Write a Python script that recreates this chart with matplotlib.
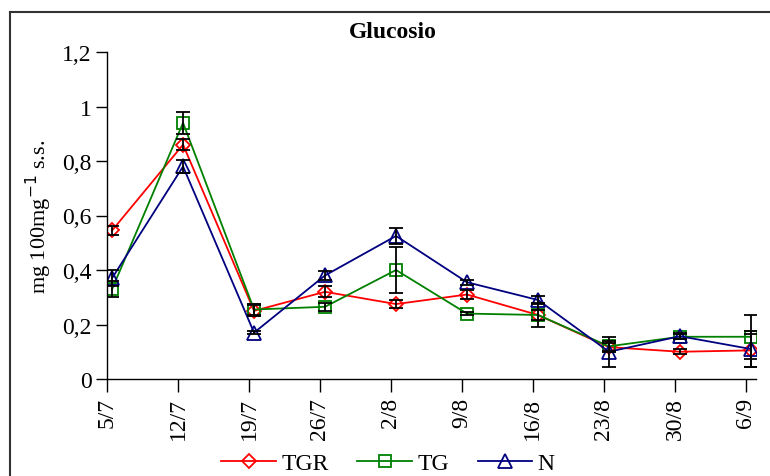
import numpy as np
import matplotlib.pyplot as plt
from matplotlib.lines import Line2D
from matplotlib.ticker import FuncFormatter

plt.rcParams['font.family'] = ['Liberation Serif', 'DejaVu Serif']

# sampling dates (tick labels) and days from 5/7
dates = ['5/7', '12/7', '19/7', '26/7', '2/8', '9/8', '16/8', '23/8', '30/8', '6/9']
days = np.arange(0, 70, 7)

# mean values (mg 100mg-1 s.s.)
tgr = [0.545, 0.86, 0.25, 0.32, 0.275, 0.31, 0.235, 0.117, 0.10, 0.105]
tg = [0.33, 0.94, 0.255, 0.265, 0.40, 0.24, 0.235, 0.12, 0.155, 0.155]
n = [0.37, 0.78, 0.17, 0.38, 0.525, 0.355, 0.29, 0.10, 0.157, 0.11]

# error bars
tgr_err = [0.015, 0.02, 0.02, 0.02, 0.015, 0.015, 0.045, 0.015, 0.01, 0.06]
tg_err = [0.03, 0.04, 0.02, 0.015, 0.085, 0.005, 0.02, 0.02, 0.01, 0.08]
n_err = [0.03, 0.025, 0.005, 0.015, 0.03, 0.01, 0.015, 0.055, 0.01, 0.065]

fig = plt.figure(figsize=(7.7, 4.77), dpi=100)
ax = fig.add_axes([107/770, 1-380/477, (756-107)/770, (380-53)/477])

x = days + 0.5
series = [(tgr, tgr_err, 'TGR', '#FF0000', 'D', 7.5),
          (tg, tg_err, 'TG', '#008000', 's', 9),
          (n, n_err, 'N', '#000080', '^', 10)]
for vals, err, lab, col, mk, ms in series:
    ax.plot(x, vals, color=col, marker=mk, markersize=ms, markerfacecolor='none',
            markeredgecolor=col, markeredgewidth=1.3, linewidth=1.3, label=lab, zorder=2)
    ax.errorbar(x, vals, yerr=err, fmt='none', ecolor='black', elinewidth=1.3,
                capsize=5, capthick=1.3, zorder=3)

ax.set_xlim(0, 64)
ax.set_ylim(0, 1.2)
ax.set_xticks(days)
ax.set_xticklabels(dates, rotation=90, fontsize=17)
ax.set_yticks(np.arange(0, 1.21, 0.2))
ax.yaxis.set_major_formatter(FuncFormatter(lambda v, p: ('%g' % round(v, 1)).replace('.', ',')))
ax.tick_params(axis='y', labelsize=17, length=8, width=1, direction='out', pad=3)
ax.tick_params(axis='x', length=9, width=1, direction='out', pad=4)
for s in ['top', 'right']:
    ax.spines[s].set_visible(False)
ax.spines['left'].set_linewidth(1)
ax.spines['bottom'].set_linewidth(1)

ax.set_ylabel('mg 100mg$^{-1}$ s.s.', fontsize=16, labelpad=6)
fig.text(393/770, 1-32/477, 'Glucosio', fontsize=17, fontweight='bold',
         ha='center', va='center')

fig.legend(loc='lower center', ncol=3, frameon=False, fontsize=17,
           bbox_to_anchor=(0.504, -0.04), handlelength=2.3, columnspacing=1.2,
           handletextpad=0.25)

# outer border of the chart area
fig.add_artist(Line2D([10/770, 1.0], [1-13/477, 1-13/477], transform=fig.transFigure,
                      color='#333333', linewidth=1.5))
fig.add_artist(Line2D([10/770, 10/770], [0, 1-13/477], transform=fig.transFigure,
                      color='#333333', linewidth=1.5))

fig.savefig('out.png', dpi=100)
